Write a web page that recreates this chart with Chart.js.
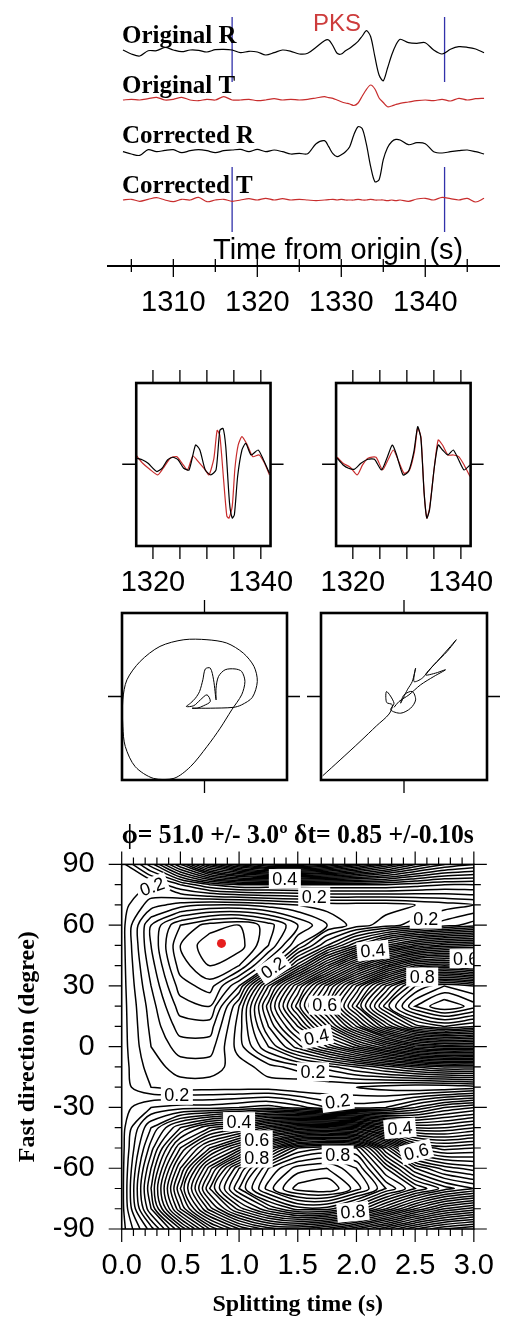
<!DOCTYPE html>
<html>
<head>
<meta charset="utf-8">
<script src="https://cdn.jsdelivr.net/npm/chart.js@4.4.1/dist/chart.umd.min.js"></script>
<style>
body { margin: 0; background: #fff; }
#page { position: relative; width: 514px; height: 1328px; overflow: hidden; background: #fff; }
#page canvas { position: absolute; }
</style>
</head>
<body>
<div id="page">
  <canvas id="traces" width="514" height="330" style="left:0px;top:0px"></canvas>
  <canvas id="waveL" width="214" height="235" style="left:100px;top:365px"></canvas>
  <canvas id="waveR" width="214" height="235" style="left:300px;top:365px"></canvas>
  <canvas id="pmL" width="214" height="210" style="left:100px;top:595px"></canvas>
  <canvas id="pmR" width="214" height="210" style="left:300px;top:595px"></canvas>
  <canvas id="grid" width="514" height="508" style="left:0px;top:820px"></canvas>
</div>
<script>
// ---- seismogram traces (time in s, amplitude in plot units) ----
var traceTimes = [1304,1305,1306,1307,1308,1309,1310,1311,1312,1313,1314,1315,1316,1317,1318,1319,1320,1321,1322,1323,1324,1325,1326,1327,1328,
  1328.5,1329,1329.5,1330,1330.5,1331,1331.5,1332,1332.5,1333,1333.5,1334,1334.5,1335,1335.5,1336,1336.5,1337,
  1338,1339,1340,1341,1342,1343,1344,1345,1346,1347];
var originalR = [0,-4,-6,-0.7,-0.7,2.5,0,-1.7,0,-0.3,-2,0.3,0.7,0,-2.7,-1.3,-2,-5,-2.7,0,-1.3,-4,-3.3,2.7,9.3,
  10,4.3,-3.3,-4,-0.7,1.7,5,8.7,14,19.3,13.3,-6.7,-25,-30.7,-18.3,-5,5,10.7,
  7.3,6.7,7.3,0,-4,0.7,3.3,2.7,1,-2.7];
var originalT = [0,0.7,0,1.3,2.7,0,0.7,2.7,0,-0.7,0.7,0,3.3,0,0,0.7,-0.7,0,1.3,0,0.7,0,0.7,2,3.3,
  2.3,1.7,0,-1.7,-3,-4,-5.5,-3,4,10.7,15,11,2,-2.5,-6.7,-6,-4.5,-3.3,
  -2,-0.7,0,-0.7,0.7,-1,1.7,0,1.3,1.7];
var correctedR = [0,-2.3,-3.7,2,0,1.3,2,-1,1,2,1,-1,1,1.7,2.3,0,2.3,0,1.7,0,-2.3,-1.7,-2,8,11,
  5,-2,-5,-3,0,5,17,25,23,7,-15,-30,-28,-8,4,10,12.3,11.7,
  7,9,8,0,-1.3,0,1,1.7,0,-2.3];
var correctedT = [0,0.7,-1.3,0.7,2.3,0,-1.7,0.7,0,2.7,-1.7,0,0.7,-1.3,0,1.3,0,1.7,0,1.3,0,0.7,0,-0.7,0,
  0.3,0.7,0,0.7,0,0,0,0.7,0,0,0.7,0,0,0,-0.7,0,-0.7,0,
  -1.3,1,1.7,0,2.7,1.3,0,1.7,-2,1.7];
var traceTickLabels = [1310, 1320, 1330, 1340];
var traceTickMarks = [1305, 1310, 1315, 1320, 1325, 1330, 1335, 1340, 1345];
var pickTimes = [1317.0, 1342.3];

// ---- windowed waveforms, before (left) and after (right) correction ----
var leftBlackT = [1317,1318.1,1319.1,1320.7,1321.7,1322.7,1323.7,1324.7,1325.7,1326.7,1327.9,1328.7,1329.7,1330.7,1331.7,1332.4,1333,1333.5,1334.2,1334.7,1335.1,1335.7,1336.5,1337.2,1338.2,1339.5,1340.5,1341.6];
var leftBlackA = [6,4.3,1,-7.3,-4,4.3,7,4.3,-4,-5.7,19.3,14.3,-5.7,-10.7,-5.7,34,36,17.7,-39,-54,-50.7,-12.3,14.3,21,9.3,14.3,4.3,-9];
var leftRedT = [1317,1318.1,1319.4,1320.9,1321.9,1323.2,1324.4,1325.4,1326.4,1327.4,1328.4,1329.7,1330.4,1331.3,1331.9,1332.4,1333.1,1333.7,1334.1,1334.7,1335.2,1335.8,1336.5,1337.5,1338.5,1339.7,1340.7,1341.6];
var leftRedA = [8.3,1,-5,-10.7,-4,6,7.7,1,-5.7,8.3,2.7,-5.7,-10.7,6,34,29,-15.7,-52,-54,-42.3,-4,19.3,27.7,19.3,7.7,9.3,1,-10.7];
var rightBlackT = [1317.1,1318.2,1319.2,1320.3,1321.5,1322.8,1324,1325.3,1326.3,1327.3,1328,1329.3,1330.3,1331.3,1332,1332.6,1333.2,1333.7,1334.2,1335.1,1335.8,1336.6,1337.6,1338.6,1339.6,1340.6,1341.7];
var rightBlackA = [6,-0.7,-4,-5,1,5,5,-5.7,6,19.3,11,-10.7,-7.3,12.7,37.7,26,-29,-54,-45.7,-2.3,19.3,14.3,9.3,14.3,4.3,-5.7,-0.7];
var rightRedT = [1317.1,1318.2,1319.5,1320.8,1321.8,1322.8,1324.3,1325.5,1326.5,1327.5,1328.5,1329.5,1330.5,1331.4,1332,1332.6,1333.2,1333.7,1334.2,1335.1,1335.8,1336.6,1337.6,1338.6,1339.6,1340.6,1341.7];
var rightRedA = [7,1,-3,-10.7,-0.7,6,7,-5.7,4.3,14.3,2.7,-9,-5.7,12.7,36,27.7,-29,-54,-44,-2.3,24.3,19.3,9.3,9.3,7.7,-0.7,-12.3];
var boxTickLabels = [1320, 1340];
var boxTickMarks = [1320, 1325, 1330, 1335, 1340];

// ---- particle motion (normalised) ----
var pmLeftX = [-0.15,0.07,0.35,0.45,0.58,0.64,0.60,0.47,0.27,0.03,-0.25,-0.54,-0.78,-0.94,-0.99,-0.99,-0.96,-0.84,-0.62,-0.37,-0.17,0.03,0.19,0.33,0.45,0.49,0.45,0.37,0.25,0.17,0.14,0.14,0.11,0.07,0.01,-0.02,-0.06,-0.11,-0.17,-0.22,-0.13,-0.05,0.03,0.07,-0.01,-0.09,-0.15];
var pmLeftY = [-0.14,-0.14,-0.13,-0.10,-0.01,0.18,0.36,0.52,0.64,0.68,0.68,0.60,0.42,0.20,-0.04,-0.36,-0.60,-0.84,-0.98,-0.98,-0.84,-0.60,-0.38,-0.16,0.02,0.18,0.30,0.33,0.32,0.24,0.10,-0.04,0.20,0.34,0.33,0.20,0.06,-0.02,-0.08,-0.12,-0.11,-0.04,0.02,-0.06,-0.11,-0.14,-0.14];
var pmRightX = [-0.98,-0.77,-0.53,-0.33,-0.18,-0.14,-0.21,-0.21,-0.12,-0.16,-0.04,0.08,0.14,0.10,0.00,-0.04,0.04,0.10,0.14,0.12,0.22,0.36,0.52,0.63,0.56,0.40,0.26,0.38,0.50,0.36,0.20,0.06,-0.06,-0.12];
var pmRightY = [-0.95,-0.76,-0.54,-0.35,-0.21,-0.10,-0.07,0.06,-0.08,-0.16,-0.20,-0.14,-0.04,0.06,0.02,-0.08,0.08,0.18,0.34,0.18,0.22,0.38,0.54,0.68,0.60,0.42,0.26,0.28,0.32,0.24,0.14,0.02,-0.06,-0.13];

// ---- energy grid: rows = fast direction, columns = splitting time ----
var gridTimes = [0, 0.25, 0.5, 0.75, 1, 1.25, 1.5, 1.75, 2, 2.25, 2.5, 2.75, 3];
var gridAngles = [90, 80, 70, 60, 50, 40, 30, 20, 10, 0, -10, -20, -30, -40, -50, -60, -70, -80, -90];
var energy = [
  [0.21,0.29,0.40,0.52,0.60,0.65,0.66,0.63,0.58,0.52,0.46,0.42,0.40],
  [0.21,0.20,0.24,0.28,0.30,0.30,0.30,0.30,0.30,0.30,0.29,0.28,0.28],
  [0.21,0.17,0.15,0.14,0.14,0.15,0.16,0.17,0.17,0.17,0.18,0.19,0.20],
  [0.21,0.12,0.06,0.03,0.02,0.05,0.10,0.14,0.17,0.19,0.21,0.23,0.25],
  [0.21,0.12,0.04,0.005,0.01,0.06,0.14,0.22,0.30,0.38,0.44,0.47,0.48],
  [0.21,0.13,0.05,0.02,0.04,0.12,0.25,0.38,0.50,0.60,0.68,0.70,0.68],
  [0.21,0.14,0.07,0.05,0.12,0.28,0.42,0.55,0.68,0.80,0.90,0.94,0.92],
  [0.21,0.15,0.09,0.08,0.18,0.33,0.47,0.60,0.74,0.87,0.96,1.00,0.97],
  [0.21,0.155,0.11,0.11,0.19,0.30,0.40,0.52,0.64,0.76,0.85,0.88,0.86],
  [0.21,0.16,0.13,0.13,0.19,0.26,0.33,0.40,0.47,0.54,0.60,0.62,0.62],
  [0.21,0.17,0.15,0.15,0.17,0.19,0.21,0.23,0.26,0.29,0.32,0.34,0.34],
  [0.21,0.18,0.17,0.17,0.17,0.17,0.16,0.16,0.16,0.15,0.14,0.14,0.15],
  [0.21,0.24,0.25,0.25,0.26,0.27,0.25,0.22,0.21,0.22,0.26,0.30,0.32],
  [0.21,0.30,0.38,0.44,0.47,0.53,0.57,0.58,0.56,0.48,0.42,0.42,0.44],
  [0.21,0.33,0.46,0.56,0.64,0.76,0.86,0.88,0.86,0.72,0.58,0.55,0.56],
  [0.21,0.36,0.52,0.67,0.80,0.90,0.95,0.96,0.92,0.82,0.72,0.67,0.65],
  [0.21,0.38,0.56,0.72,0.84,0.93,0.99,1.00,0.95,0.88,0.82,0.77,0.74],
  [0.21,0.36,0.52,0.65,0.75,0.82,0.87,0.87,0.82,0.74,0.66,0.60,0.57],
  [0.21,0.29,0.40,0.52,0.60,0.65,0.66,0.63,0.58,0.52,0.46,0.42,0.40]
];
var contourStep = 0.02;
var bestDt = 0.85, bestPhi = 51.0;
var gridXTicks = [0, 0.5, 1, 1.5, 2, 2.5, 3];
var gridYTicks = [-90, -60, -30, 0, 30, 60, 90];
var contourLabels = [
  { dt: 0.26, phi: 79, text: '0.2', tilt: -20 },
  { dt: 1.39, phi: 83, text: '0.4', tilt: 0 },
  { dt: 1.64, phi: 74, text: '0.2', tilt: 0 },
  { dt: 2.59, phi: 63, text: '0.2', tilt: 0 },
  { dt: 2.14, phi: 47.5, text: '0.4', tilt: -5 },
  { dt: 2.93, phi: 43.5, text: '0.6', tilt: 0 },
  { dt: 2.56, phi: 34.4, text: '0.8', tilt: 0 },
  { dt: 1.29, phi: 39, text: '0.2', tilt: -35 },
  { dt: 1.73, phi: 20.5, text: '0.6', tilt: 0 },
  { dt: 1.66, phi: 4.8, text: '0.4', tilt: -12 },
  { dt: 1.63, phi: -12.4, text: '0.2', tilt: 0 },
  { dt: 0.47, phi: -24, text: '0.2', tilt: 0 },
  { dt: 1.84, phi: -27, text: '0.2', tilt: -8 },
  { dt: 1.0, phi: -37, text: '0.4', tilt: 0 },
  { dt: 1.15, phi: -46, text: '0.6', tilt: 0 },
  { dt: 1.15, phi: -55, text: '0.8', tilt: 0 },
  { dt: 1.84, phi: -53.5, text: '0.8', tilt: 0 },
  { dt: 2.37, phi: -40.3, text: '0.4', tilt: -5 },
  { dt: 2.51, phi: -51.9, text: '0.6', tilt: -15 },
  { dt: 1.97, phi: -81.5, text: '0.8', tilt: -5 }
];

var SANS = "'Liberation Sans', Arial, sans-serif";
var SERIF = "'Liberation Serif', 'Times New Roman', serif";
var RED = 'rgb(200,45,45)';

Chart.defaults.font.family = SANS;
Chart.defaults.color = '#000';
Chart.defaults.animation = false;
Chart.defaults.responsive = false;
Chart.defaults.plugins.legend.display = false;
Chart.defaults.plugins.tooltip.enabled = false;
Chart.defaults.elements.point.radius = 0;

function pairs(xs, ys, shift) {
  return xs.map(function (x, i) { return { x: x, y: ys[i] + (shift || 0) }; });
}

function line(data, color, width, tension) {
  return { data: data, showLine: true, borderColor: color, borderWidth: width, pointRadius: 0, tension: tension || 0 };
}

// x axis that only carries tick labels; tick marks are drawn by the plugins
function labelAxis(min, max, values, height, fmt) {
  return {
    type: 'linear', min: min, max: max,
    grid: { display: false, drawTicks: false },
    border: { display: false },
    afterBuildTicks: function (s) { s.ticks = values.map(function (v) { return { value: v }; }); },
    afterFit: function (s) { s.height = height; },
    ticks: { autoSkip: false, maxRotation: 0, padding: 20, font: { size: 29 }, color: '#000', callback: fmt || function (v) { return String(v); } }
  };
}

// ---------------- top: traces ----------------
var traceDecor = {
  id: 'traceDecor',
  afterDraw: function (chart) {
    var ctx = chart.ctx, a = chart.chartArea, x = chart.scales.x;
    ctx.save();
    ctx.strokeStyle = '#000';
    ctx.lineWidth = 2;
    ctx.beginPath();
    ctx.moveTo(a.left, a.bottom);
    ctx.lineTo(a.right, a.bottom);
    ctx.stroke();
    ctx.lineWidth = 1.3;
    ctx.beginPath();
    traceTickMarks.forEach(function (t) {
      var px = x.getPixelForValue(t);
      var major = t % 10 === 0;
      ctx.moveTo(px, a.bottom - 7);
      ctx.lineTo(px, a.bottom + (major ? 11 : 6));
    });
    ctx.stroke();
    ctx.fillStyle = '#000';
    ctx.textBaseline = 'alphabetic';
    ctx.font = 'bold 25px ' + SERIF;
    ctx.fillText('Original R', 122, 43);
    ctx.fillText('Original T', 122, 93);
    ctx.fillText('Corrected R', 122, 143);
    ctx.fillText('Corrected T', 122, 193);
    ctx.font = '24px ' + SANS;
    ctx.fillStyle = 'rgb(205,60,60)';
    ctx.fillText('PKS', 313, 31);
    ctx.fillStyle = '#000';
    ctx.font = '29px ' + SANS;
    ctx.fillText('Time from origin (s)', 213, 259);
    ctx.restore();
  }
};

var BLUE = 'rgb(50,50,170)';
new Chart(document.getElementById('traces'), {
  type: 'scatter',
  data: {
    datasets: [
      line(pairs(traceTimes, originalR, 216), '#000', 1.2, 0.3),
      line(pairs(traceTimes, originalT, 166), RED, 1.2, 0.3),
      line(pairs(traceTimes, correctedR, 114.3), '#000', 1.2, 0.3),
      line(pairs(traceTimes, correctedT, 66), RED, 1.2, 0.3),
      line([{ x: pickTimes[0], y: 249 }, { x: pickTimes[0], y: 184 }], BLUE, 1.3),
      line([{ x: pickTimes[0], y: 99 }, { x: pickTimes[0], y: 34 }], BLUE, 1.3),
      line([{ x: pickTimes[1], y: 249 }, { x: pickTimes[1], y: 184 }], BLUE, 1.3),
      line([{ x: pickTimes[1], y: 99 }, { x: pickTimes[1], y: 34 }], BLUE, 1.3)
    ]
  },
  options: {
    devicePixelRatio: 1,
    layout: { padding: { left: 107, right: 14, top: 0, bottom: 0 } },
    scales: {
      x: labelAxis(1302.1, 1348.9, traceTickLabels, 64),
      y: { display: false, min: 0, max: 266 }
    }
  },
  plugins: [traceDecor]
});

// ---------------- boxed panels ----------------
var frame = {
  id: 'frame',
  afterDraw: function (chart, args, opts) {
    var ctx = chart.ctx, a = chart.chartArea, s = chart.scales;
    ctx.save();
    ctx.strokeStyle = '#000';
    ctx.lineWidth = 1.3;
    ctx.beginPath();
    (opts.xTicks || []).forEach(function (v) {
      var px = s.x.getPixelForValue(v);
      ctx.moveTo(px, a.top); ctx.lineTo(px, a.top - 13);
      ctx.moveTo(px, a.bottom); ctx.lineTo(px, a.bottom + 13);
    });
    (opts.yTicks || []).forEach(function (v) {
      var py = s.y.getPixelForValue(v);
      ctx.moveTo(a.left, py); ctx.lineTo(a.left - 14, py);
      ctx.moveTo(a.right, py); ctx.lineTo(a.right + 13, py);
    });
    ctx.stroke();
    ctx.lineWidth = 2.6;
    ctx.strokeRect(a.left, a.top, a.right - a.left, a.bottom - a.top);
    ctx.restore();
  }
};

function waveChart(id, padLeft, bT, bA, rT, rA) {
  return new Chart(document.getElementById(id), {
    type: 'scatter',
    data: { datasets: [line(pairs(bT, bA), '#000', 1.2, 0.2), line(pairs(rT, rA), RED, 1.2, 0.2)] },
    options: {
      devicePixelRatio: 1,
      layout: { padding: { left: padLeft, right: 27, top: 18, bottom: 0 } },
      scales: {
        x: labelAxis(1316.9, 1341.8, boxTickLabels, 54),
        y: { display: false, min: -82, max: 81.5 }
      },
      plugins: { frame: { xTicks: boxTickMarks, yTicks: [0] } }
    },
    plugins: [frame]
  });
}
waveChart('waveL', 22, leftBlackT, leftBlackA, leftRedT, leftRedA);
waveChart('waveR', 21, rightBlackT, rightBlackA, rightRedT, rightRedA);

function pmChart(id, padLeft, xs, ys) {
  return new Chart(document.getElementById(id), {
    type: 'scatter',
    data: { datasets: [line(pairs(xs, ys), '#000', 1, 0.3)] },
    options: {
      devicePixelRatio: 1,
      layout: { padding: { left: padLeft, right: 27, top: 18, bottom: 25 } },
      scales: {
        x: { display: false, min: -1, max: 1 },
        y: { display: false, min: -1, max: 1 }
      },
      plugins: { frame: { xTicks: [0], yTicks: [0] } }
    },
    plugins: [frame]
  });
}
pmChart('pmL', 22, pmLeftX, pmLeftY);
pmChart('pmR', 21, pmRightX, pmRightY);

// ---------------- energy contours ----------------
function contourPaths(level) {
  var pts = {}, adj = {};
  function cut(i1, j1, i2, j2) {
    var a = i1 + ',' + j1, b = i2 + ',' + j2;
    var k = a < b ? a + '|' + b : b + '|' + a;
    if (!pts[k]) {
      var v1 = energy[j1][i1], v2 = energy[j2][i2];
      var t = (level - v1) / (v2 - v1);
      pts[k] = {
        x: gridTimes[i1] + t * (gridTimes[i2] - gridTimes[i1]),
        y: gridAngles[j1] + t * (gridAngles[j2] - gridAngles[j1])
      };
    }
    return k;
  }
  function link(a, b) {
    (adj[a] = adj[a] || []).push(b);
    (adj[b] = adj[b] || []).push(a);
  }
  for (var j = 0; j < gridAngles.length - 1; j++) {
    for (var i = 0; i < gridTimes.length - 1; i++) {
      var c = [[i, j], [i + 1, j], [i + 1, j + 1], [i, j + 1]];
      var v = c.map(function (p) { return energy[p[1]][p[0]]; });
      var hi = v.map(function (z) { return z >= level; });
      var cuts = [];
      for (var e = 0; e < 4; e++) {
        var f = (e + 1) % 4;
        if (hi[e] !== hi[f]) cuts.push(cut(c[e][0], c[e][1], c[f][0], c[f][1]));
      }
      if (cuts.length === 2) link(cuts[0], cuts[1]);
      else if (cuts.length === 4) {
        var mid = (v[0] + v[1] + v[2] + v[3]) / 4 >= level;
        if (mid === hi[0]) { link(cuts[0], cuts[1]); link(cuts[2], cuts[3]); }
        else { link(cuts[3], cuts[0]); link(cuts[1], cuts[2]); }
      }
    }
  }
  var seen = {}, paths = [];
  function walk(start) {
    var seq = [start], cur = start;
    seen[start] = true;
    for (;;) {
      var nxt = adj[cur].filter(function (k) { return !seen[k]; })[0];
      if (nxt === undefined) {
        if (seq.length > 2 && adj[cur].indexOf(start) >= 0) seq.push(start);
        break;
      }
      seen[nxt] = true;
      seq.push(nxt);
      cur = nxt;
    }
    return seq.map(function (k) { return pts[k]; });
  }
  var keys = Object.keys(adj);
  keys.forEach(function (k) { if (!seen[k] && adj[k].length === 1) paths.push(walk(k)); });
  keys.forEach(function (k) { if (!seen[k]) paths.push(walk(k)); });
  return paths;
}

var contourSets = [{
  data: [{ x: bestDt, y: bestPhi }], pointRadius: 4.5, backgroundColor: 'rgb(230,30,30)', borderWidth: 0
}];
for (var n = 1; n * contourStep < 0.999; n++) {
  var lev = Math.round(n * contourStep * 1000) / 1000;
  contourPaths(lev).forEach(function (p) {
    if (p.length > 1) contourSets.push(line(p, '#000', 1.5, 0.3));
  });
}

var contourDecor = {
  id: 'contourDecor',
  afterDatasetsDraw: function (chart) {
    var ctx = chart.ctx, a = chart.chartArea, x = chart.scales.x, y = chart.scales.y;
    ctx.save();
    ctx.beginPath();
    ctx.rect(a.left, a.top, a.right - a.left, a.bottom - a.top);
    ctx.clip();
    ctx.font = '18px ' + SANS;
    ctx.textAlign = 'center';
    ctx.textBaseline = 'middle';
    contourLabels.forEach(function (l) {
      var w = ctx.measureText(l.text).width + 7;
      ctx.save();
      ctx.translate(x.getPixelForValue(l.dt), y.getPixelForValue(l.phi));
      ctx.rotate(l.tilt * Math.PI / 180);
      ctx.fillStyle = '#fff';
      ctx.fillRect(-w / 2, -9.5, w, 19);
      ctx.fillStyle = '#000';
      ctx.fillText(l.text, 0, 1);
      ctx.restore();
    });
    ctx.restore();
  },
  afterDraw: function (chart) {
    var ctx = chart.ctx, a = chart.chartArea, x = chart.scales.x, y = chart.scales.y;
    ctx.save();
    ctx.strokeStyle = '#000';
    ctx.lineWidth = 1.2;
    ctx.beginPath();
    for (var k = 0; k <= 30; k++) {
      var px = x.getPixelForValue(k / 10), len = k % 5 === 0 ? 13 : 7;
      ctx.moveTo(px, a.bottom); ctx.lineTo(px, a.bottom + len);
      ctx.moveTo(px, a.top); ctx.lineTo(px, a.top - len);
    }
    for (var m = -9; m <= 9; m++) {
      var py = y.getPixelForValue(m * 10), ln = m % 3 === 0 ? 13 : 7;
      ctx.moveTo(a.left, py); ctx.lineTo(a.left - ln, py);
      ctx.moveTo(a.right, py); ctx.lineTo(a.right + ln, py);
    }
    ctx.stroke();
    ctx.lineWidth = 1.6;
    ctx.strokeRect(a.left, a.top, a.right - a.left, a.bottom - a.top);
    ctx.restore();
  }
};

var gridX = labelAxis(0, 3, gridXTicks, 99, function (v) { return v.toFixed(1); });
gridX.title = { display: true, text: 'Splitting time (s)', color: '#000', font: { family: SERIF, size: 24, weight: 'bold', lineHeight: 1.2 }, padding: { top: 0, bottom: 9 } };

new Chart(document.getElementById('grid'), {
  type: 'scatter',
  data: { datasets: contourSets },
  options: {
    devicePixelRatio: 1,
    layout: { padding: { left: 0, right: 27.3, top: 0, bottom: 0 } },
    plugins: {
      title: {
        display: true, fullSize: false, color: '#000',
        text: 'ϕ= 51.0 +/- 3.0º δt= 0.85 +/-0.10s',
        font: { family: SERIF, size: 27, weight: 'bold', lineHeight: 1.2 },
        padding: { top: 0, bottom: 12 }
      }
    },
    scales: {
      x: gridX,
      y: {
        type: 'linear', min: -90, max: 90,
        grid: { display: false, drawTicks: false },
        border: { display: false },
        afterBuildTicks: function (s) { s.ticks = gridYTicks.map(function (v) { return { value: v }; }); },
        afterFit: function (s) { s.width = 121.7; },
        ticks: { autoSkip: false, padding: 27, font: { size: 29 }, color: '#000' },
        title: { display: true, text: 'Fast direction (degree)', color: '#000', font: { family: SERIF, size: 24, weight: 'bold', lineHeight: 1.2 }, padding: { top: 13, bottom: 0 } }
      }
    }
  },
  plugins: [contourDecor]
});
</script>
</body>
</html>
